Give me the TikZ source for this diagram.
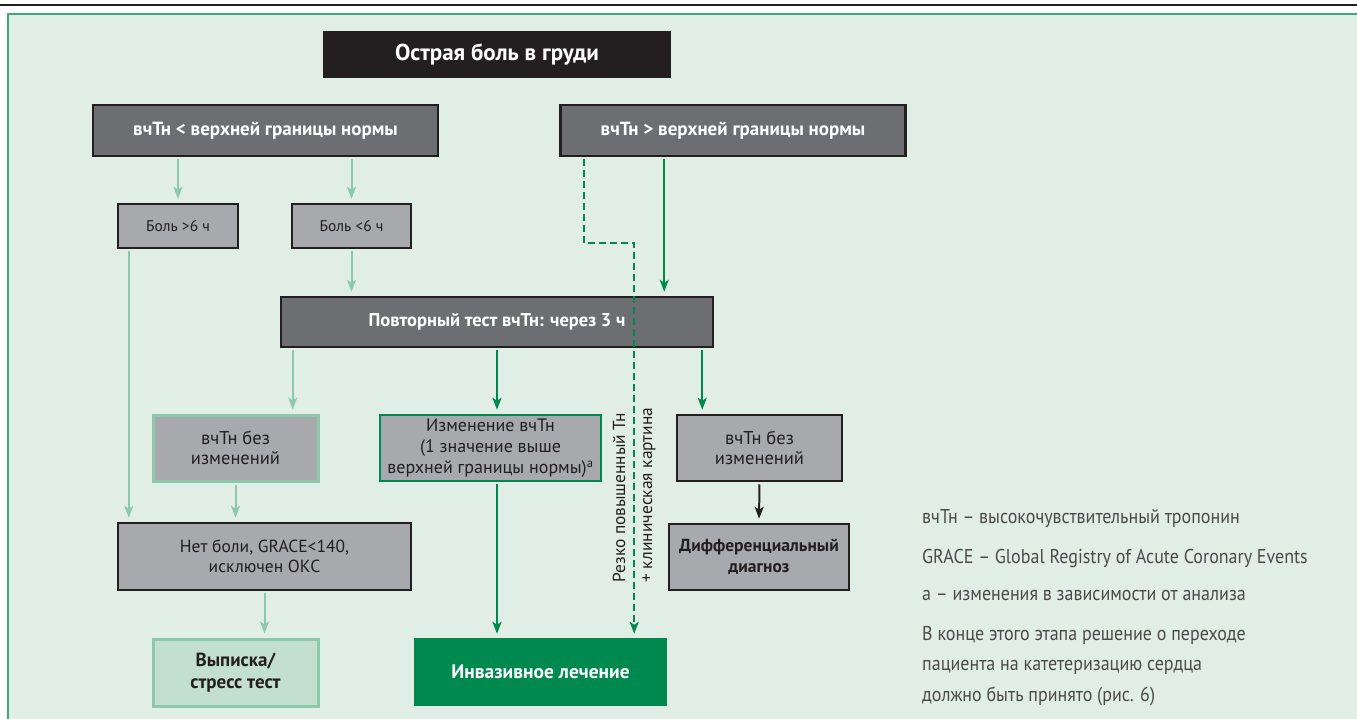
\documentclass[tikz,border=0pt]{standalone}
\usepackage{fontspec}
\setmainfont{PT Sans}
\newfontfamily\cond{PT Sans}[FakeStretch=0.9]
\usetikzlibrary{calc,positioning,arrows.meta}
\definecolor{bgmint}{HTML}{E1EEE5}
\definecolor{framegreen}{HTML}{3FA877}
\definecolor{darkink}{HTML}{231F20}
\definecolor{boxdark}{HTML}{6D6E71}
\definecolor{boxlight}{HTML}{A7A9AC}
\definecolor{palegreen}{HTML}{8CC9AB}
\definecolor{deepgreen}{HTML}{00894F}
\definecolor{mintfill}{HTML}{C2DFCF}
\definecolor{legendgrey}{HTML}{4A4A4C}

\begin{document}
\begin{tikzpicture}[x=1pt,y=-1pt,
    hdr/.style={fill=boxdark,draw=darkink,line width=2.5pt,text=white,inner sep=0pt,
        font=\bfseries\fontsize{19}{22}\selectfont},
    gbox/.style={fill=boxlight,draw=darkink,line width=2.5pt,text=darkink,inner sep=0pt,
        align=center,font=\fontsize{18}{21}\selectfont},
    tip/.style={-{Stealth[length=12pt,width=9pt,inset=3pt]},line width=2pt,
        shorten <=2pt,shorten >=4pt},
    palearrow/.style={tip,draw=palegreen},
    greenarrow/.style={tip,draw=deepgreen},
    inkarrow/.style={tip,draw=darkink},
    legendtext/.style={anchor=base west,inner sep=0pt,text=legendgrey,
        font=\cond\fontsize{20}{24}\selectfont}
    ]
    \clip (0,0) rectangle (1357,718);
    \draw[darkink,line width=1.5pt] (0,5) -- (1357,5);
    \draw[framegreen,line width=2pt,fill=bgmint] (8,14) rectangle (1380,740);

    \node[fill=darkink,text=white,inner sep=0pt,minimum width=348,minimum height=47,
        font=\bfseries\fontsize{23}{26}\selectfont] (chestpain) at (497,54.5) {Острая боль в груди};
    \node[hdr,minimum width=345,minimum height=51] (low) at (265.5,130.5) {вчТн < верхней границы нормы};
    \node[hdr,minimum width=345,minimum height=51] (high) at (733,130.5) {вчТн > верхней границы нормы};
    \node[gbox,minimum width=120,minimum height=44,font=\fontsize{15.5}{19}\selectfont] (over6) at (178,226) {Боль >6 ч};
    \node[gbox,minimum width=119,minimum height=44,font=\fontsize{15.5}{19}\selectfont] (under6) at (351.5,226) {Боль <6 ч};
    \node[hdr,minimum width=432,minimum height=50,font=\bfseries\fontsize{18.5}{22}\selectfont] (retest) at (497,322) {Повторный тест вчТн: через 3 ч};
    \node[gbox,draw=palegreen,line width=3pt,minimum width=165,minimum height=66,font=\fontsize{18.5}{20.5}\selectfont] (stableL) at (235.5,448) {вчТн без\\изменений};
    \node[gbox,draw=deepgreen,minimum width=221,minimum height=66] (rise) at (490.5,448) {Изменение вчТн\\(1 значение выше\\верхней границы нормы)\textsuperscript{a}};
    \node[gbox,minimum width=165,minimum height=66,font=\fontsize{18.5}{20.5}\selectfont] (stableR) at (759.5,448) {вчТн без\\изменений};
    \node[gbox,minimum width=293,minimum height=67,font=\fontsize{17.5}{20.5}\selectfont] (nopain) at (264.5,556.5) {Нет боли, GRACE<140,\\исключен ОКС};
    \node[gbox,minimum width=180,minimum height=66,font=\bfseries\fontsize{17.5}{20.5}\selectfont] (diffdx) at (759,557) {Дифференциальный\\диагноз};
    \node[gbox,fill=mintfill,draw=palegreen,line width=3pt,minimum width=165,minimum height=67,
        font=\bfseries\fontsize{19}{22}\selectfont] (discharge) at (235.5,672.5) {Выписка/\\стресс тест};
    \node[fill=deepgreen,text=white,inner sep=0pt,minimum width=253,minimum height=68,
        font=\bfseries\fontsize{19.5}{22}\selectfont] (invasive) at (540.5,672) {Инвазивное лечение};

    \coordinate (c1) at ([xshift=12pt]nopain.north west);
    \coordinate (c2) at ([xshift=13pt]retest.south west);
    \coordinate (c3) at ([xshift=-12pt]retest.south east);
    \coordinate (c4) at ([xshift=-50pt]retest.north east);
    \coordinate (d1) at ([xshift=25pt]high.south west);
    \coordinate (d2) at ([xshift=-33pt]invasive.north east);

    \draw[palearrow] (low.south -| over6) -- (over6.north);
    \draw[palearrow] (low.south -| under6) -- (under6.north);
    \draw[palearrow] (under6.south) -- (retest.north -| under6);
    \draw[palearrow] (over6.south -| c1) -- (c1);
    \draw[palearrow] (c2) -- (c2 |- stableL.north);
    \draw[palearrow] (stableL.south) -- (stableL.south |- nopain.north);
    \draw[palearrow] (nopain.south) -- (nopain.south |- discharge.north);
    \draw[greenarrow] (high.south -| c4) -- (c4);
    \draw[greenarrow] (retest.south) -- (retest.south |- rise.north);
    \draw[greenarrow] (retest.south |- rise.south) -- (retest.south |- invasive.north);
    \draw[greenarrow] (c3) -- (c3 |- stableR.north);
    \draw[inkarrow] (stableR.south) -- (diffdx.north);
    \draw[greenarrow,dash pattern=on 7pt off 4pt] (d1) -- ++(0,86) -| (d2);

    \node[rotate=90,anchor=west,align=left,inner sep=0pt,text=darkink,
        font=\fontsize{17.4}{27}\selectfont] (sharp) at ($(d2)+(0,-55)$) {Резко повышенный Тн\\+ клиническая картина};

    \foreach \y/\t [count=\i] in
        {523/{вчТн – высокочувствительный тропонин},
         563/{GRACE – Global Registry of Acute Coronary Events},
         600/{а – изменения в зависимости от анализа},
         640/{В конце этого этапа решение о переходе},
         670/{пациента на катетеризацию сердца},
         701/{должно быть принято (рис. 6)}}
        {
            \node[legendtext] (leg\i) at (922,\y) {\t};
        };
\end{tikzpicture}
\end{document}
